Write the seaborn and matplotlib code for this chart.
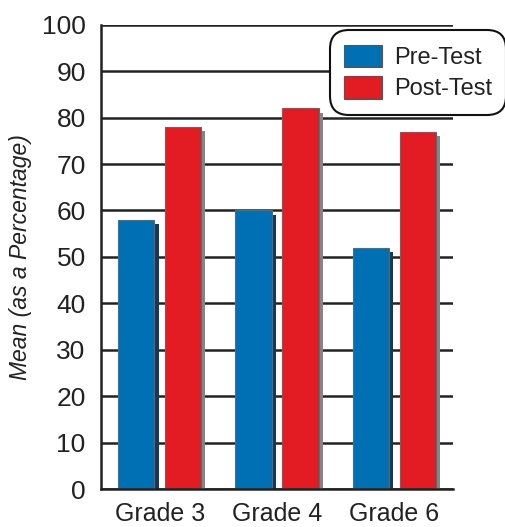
import pandas as pd
import matplotlib
matplotlib.use('Agg')
import matplotlib.pyplot as plt
import matplotlib.patheffects as pe
from matplotlib.ticker import MultipleLocator, FixedLocator
import seaborn as sns

grades = ['Grade 3', 'Grade 4', 'Grade 6']
tests = ['Pre-Test', 'Post-Test']
pre_test = [58, 60, 52]
post_test = [78, 82, 77]

colors = {'Pre-Test': '#0070b4', 'Post-Test': '#e31b23'}
shadow_colors = {'Pre-Test': '#0b3a68', 'Post-Test': '#858585'}

df = pd.DataFrame({
    'grade': grades * 2,
    'test': ['Pre-Test'] * 3 + ['Post-Test'] * 3,
    'mean': pre_test + post_test,
})

sns.set_style('white')
plt.rcParams['font.family'] = ['Liberation Sans', 'DejaVu Sans']

fig = plt.figure(figsize=(5.05, 5.27), dpi=100)
ax = fig.add_axes([0.2, 0.072, 0.697, 0.881])

sns.barplot(data=df, x='grade', y='mean', hue='test', hue_order=tests,
            palette=colors, saturation=1, width=0.8, gap=0.225,
            edgecolor='#666666', linewidth=0.8, legend=False, ax=ax)

# drop shadows to the right of each bar
for i, patch in enumerate(ax.patches):
    test = tests[i // len(grades)]
    patch.set_path_effects([
        pe.SimplePatchShadow(offset=(3, -3), shadow_rgbFace=shadow_colors[test], alpha=1),
        pe.Normal(),
    ])

ax.set_ylim(0, 100)
ax.set_xlim(-0.5, 2.5)
ax.yaxis.set_major_locator(MultipleLocator(10))
ax.set_axisbelow(True)
ax.grid(axis='y', color='#222222', linewidth=1.8)
ax.grid(axis='x', visible=False)

for side in ['top', 'right']:
    ax.spines[side].set_visible(False)
for side in ['left', 'bottom']:
    ax.spines[side].set_color('#222222')
    ax.spines[side].set_linewidth(1.8)

ax.xaxis.set_minor_locator(FixedLocator([-0.5, 0.5, 1.5, 2.5]))
ax.tick_params(axis='x', which='minor', direction='in', length=10, width=1.8, color='#222222')
ax.tick_params(axis='x', which='major', length=0, pad=9, labelsize=18, labelcolor='#222222')
ax.tick_params(axis='y', length=0, pad=11, labelsize=19, labelcolor='#222222')

ax.set_xlabel('')
ax.set_ylabel('Mean (as a Percentage)', fontsize=16.5, style='italic', color='#222222', labelpad=7)

handles = [plt.Rectangle((0, 0), 1, 1, facecolor=colors[t], edgecolor='#555555', linewidth=0.8)
           for t in tests]
leg = fig.legend(handles, tests, loc='upper right', bbox_to_anchor=(1.0, 0.94),
                 fontsize=17, frameon=True, framealpha=1, handlelength=1.6,
                 handleheight=1.1, handletextpad=0.5, labelspacing=0.3,
                 borderpad=0.5, borderaxespad=0.05)
frame = leg.get_frame()
frame.set_edgecolor('#111111')
frame.set_linewidth(1.5)
frame.set_boxstyle('round', pad=0.1, rounding_size=0.8)
for txt in leg.get_texts():
    txt.set_color('#222222')

fig.savefig('out.png', dpi=100)
